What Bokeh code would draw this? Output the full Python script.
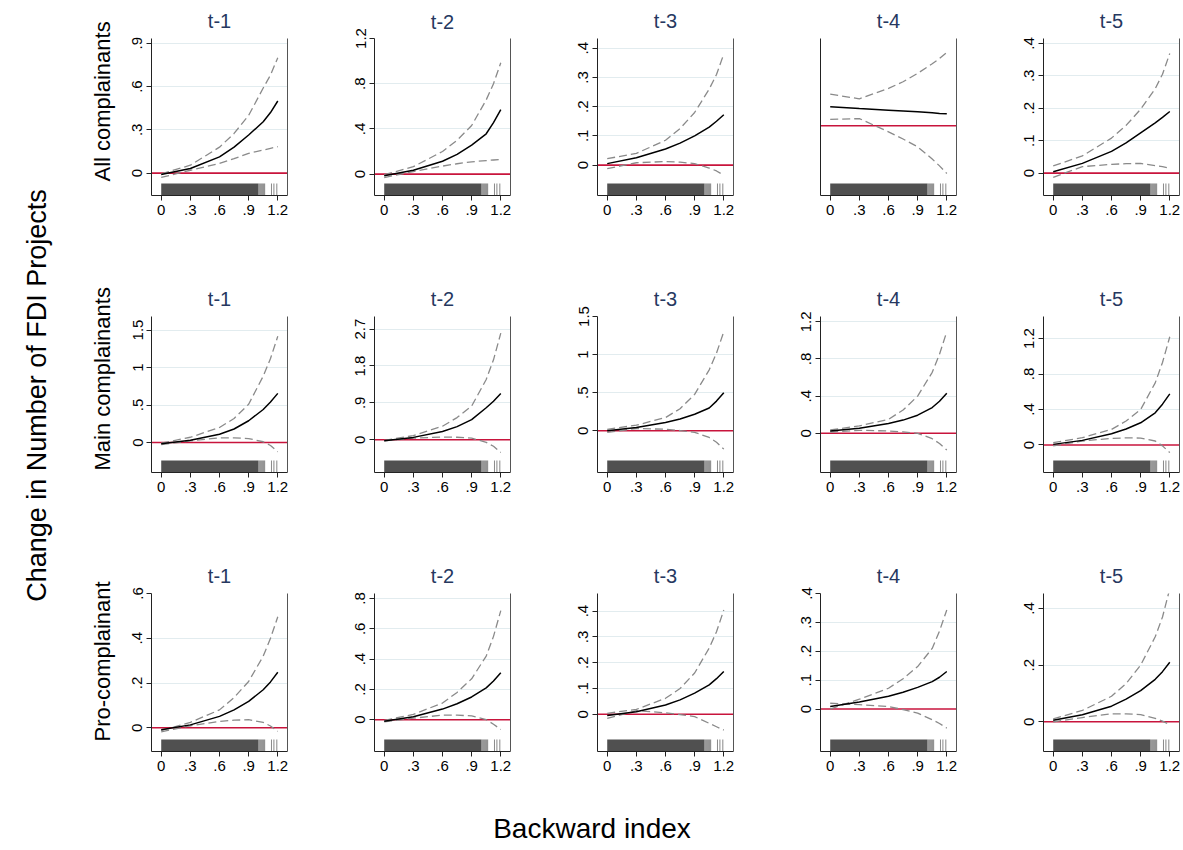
from bokeh.plotting import figure
from bokeh.models import Range1d, FixedTicker, LinearAxis, Title, Span
from bokeh.layouts import row, column
from bokeh.embed import file_html
from bokeh.resources import INLINE

# ---------------- data ----------------
row_labels = ["All complainants", "Main complainants", "Pro-complainant"]
lag_titles = ["t-1", "t-2", "t-3", "t-4", "t-5"]
y_title = "Change in Number of FDI Projects"
x_title = "Backward index"

x_pts = [0, 0.3, 0.6, 0.75, 0.9, 1.05, 1.125, 1.2]
x_ticks = [0, 0.3, 0.6, 0.9, 1.2]
x_tick_labels = ["0", ".3", ".6", ".9", "1.2"]

# rug of observed backward index values
rug_dense_end = 1.0
rug_ticks = [1.005, 1.015, 1.025, 1.035, 1.045, 1.055, 1.065, 1.135, 1.16, 1.19]

# All complainants
all_est = [[-0.01, 0.032, 0.113, 0.18, 0.264, 0.356, 0.42, 0.50],
           [-0.014, 0.034, 0.114, 0.175, 0.257, 0.357, 0.455, 0.571],
           [0.005, 0.025, 0.055, 0.075, 0.10, 0.13, 0.15, 0.172],
           [0.0475, 0.043, 0.039, 0.037, 0.035, 0.0325, 0.031, 0.03],
           [0.004, 0.03, 0.067, 0.093, 0.124, 0.155, 0.172, 0.19]]
all_hi = [[-0.005, 0.055, 0.18, 0.275, 0.40, 0.59, 0.68, 0.80],
          [-0.005, 0.066, 0.2, 0.3, 0.43, 0.657, 0.8, 0.986],
          [0.022, 0.04, 0.085, 0.125, 0.18, 0.26, 0.31, 0.38],
          [0.079, 0.0675, 0.0935, 0.11, 0.131, 0.155, 0.168, 0.1835],
          [0.022, 0.053, 0.108, 0.147, 0.197, 0.26, 0.305, 0.369]]
all_lo = [[-0.03, 0.02, 0.067, 0.1, 0.137, 0.16, 0.172, 0.183],
          [-0.03, 0.023, 0.071, 0.092, 0.109, 0.12, 0.125, 0.129],
          [-0.012, 0.008, 0.012, 0.01, 0.005, -0.01, -0.02, -0.035],
          [0.016, 0.018, -0.015, -0.033, -0.0525, -0.083, -0.1, -0.119],
          [-0.013, 0.02, 0.027, 0.029, 0.03, 0.023, 0.02, 0.015]]
all_yrange = [(-0.155, 0.933), (-0.189, 1.2), (-0.104, 0.433), (-0.174, 0.218), (-0.069, 0.415)]
all_yticks = [[0, 0.3, 0.6, 0.9], [0, 0.4, 0.8, 1.2], [0, 0.1, 0.2, 0.3, 0.4], [], [0, 0.1, 0.2, 0.3, 0.4]]
all_ylabels = [["0", ".3", ".6", ".9"], ["0", ".4", ".8", "1.2"], ["0", ".1", ".2", ".3", ".4"], [],
               ["0", ".1", ".2", ".3", ".4"]]

# Main complainants
main_est = [[-0.018, 0.031, 0.11, 0.18, 0.29, 0.44, 0.54, 0.655],
            [-0.025, 0.057, 0.2, 0.32, 0.49, 0.78, 0.94, 1.13],
            [0.0, 0.043, 0.11, 0.155, 0.217, 0.30, 0.39, 0.5],
            [0.025, 0.054, 0.105, 0.142, 0.195, 0.277, 0.345, 0.432],
            [0.007, 0.052, 0.127, 0.18, 0.25, 0.363, 0.46, 0.576]]
main_hi = [[-0.01, 0.07, 0.2, 0.32, 0.51, 0.885, 1.12, 1.416],
           [-0.016, 0.1, 0.33, 0.54, 0.82, 1.47, 1.95, 2.6],
           [0.02, 0.074, 0.174, 0.29, 0.478, 0.80, 1.02, 1.30],
           [0.036, 0.08, 0.15, 0.25, 0.40, 0.656, 0.85, 1.095],
           [0.026, 0.082, 0.176, 0.27, 0.40, 0.70, 0.93, 1.22]]
main_lo = [[-0.027, 0.022, 0.062, 0.062, 0.053, 0.01, -0.04, -0.124],
           [-0.03, 0.04, 0.065, 0.06, 0.04, -0.065, -0.16, -0.31],
           [-0.02, 0.03, 0.02, 0.003, -0.02, -0.087, -0.15, -0.24],
           [0.014, 0.032, 0.025, 0.015, 0.0, -0.058, -0.11, -0.18],
           [-0.011, 0.045, 0.075, 0.08, 0.078, 0.045, -0.01, -0.086]]
main_yrange = [(-0.40, 1.68), (-0.80, 3.007), (-0.547, 1.5), (-0.422, 1.257), (-0.31, 1.448)]
main_yticks = [[0, 0.5, 1, 1.5], [0, 0.9, 1.8, 2.7], [0, 0.5, 1, 1.5], [0, 0.4, 0.8, 1.2], [0, 0.4, 0.8, 1.2]]
main_ylabels = [["0", ".5", "1", "1.5"], ["0", ".9", "1.8", "2.7"], ["0", ".5", "1", "1.5"],
                ["0", ".4", ".8", "1.2"], ["0", ".4", ".8", "1.2"]]

# Pro-complainant
pro_est = [[-0.009, 0.013, 0.051, 0.08, 0.118, 0.17, 0.205, 0.248],
           [-0.01, 0.02, 0.07, 0.105, 0.15, 0.21, 0.255, 0.31],
           [-0.005, 0.01, 0.036, 0.056, 0.082, 0.114, 0.138, 0.166],
           [0.009, 0.024, 0.044, 0.058, 0.075, 0.095, 0.11, 0.13],
           [0.005, 0.025, 0.055, 0.08, 0.11, 0.15, 0.177, 0.21]]
pro_hi = [[-0.012, 0.024, 0.08, 0.135, 0.207, 0.32, 0.4, 0.496],
          [-0.005, 0.035, 0.11, 0.18, 0.27, 0.42, 0.55, 0.72],
          [0.004, 0.019, 0.062, 0.1, 0.16, 0.257, 0.32, 0.404],
          [0.0, 0.034, 0.072, 0.105, 0.147, 0.21, 0.27, 0.343],
          [0.01, 0.04, 0.09, 0.135, 0.2, 0.3, 0.37, 0.47]]
pro_lo = [[-0.018, 0.009, 0.028, 0.034, 0.036, 0.024, 0.008, -0.016],
          [-0.015, 0.01, 0.03, 0.03, 0.025, 0.0, -0.03, -0.065],
          [-0.016, 0.014, 0.006, -0.001, -0.009, -0.035, -0.048, -0.061],
          [0.02, 0.015, 0.009, -0.002, -0.014, -0.037, -0.05, -0.066],
          [0.0, 0.015, 0.028, 0.028, 0.025, 0.012, 0.002, -0.01]]
pro_yrange = [(-0.106, 0.6), (-0.21, 0.833), (-0.144, 0.468), (-0.147, 0.4), (-0.105, 0.453)]
pro_yticks = [[0, 0.2, 0.4, 0.6], [0, 0.2, 0.4, 0.6, 0.8], [0, 0.1, 0.2, 0.3, 0.4],
              [0, 0.1, 0.2, 0.3, 0.4], [0, 0.2, 0.4]]
pro_ylabels = [["0", ".2", ".4", ".6"], ["0", ".2", ".4", ".6", ".8"], ["0", ".1", ".2", ".3", ".4"],
               ["0", ".1", ".2", ".3", ".4"], ["0", ".2", ".4"]]

rows_data = [
    (all_est, all_lo, all_hi, all_yrange, all_yticks, all_ylabels),
    (main_est, main_lo, main_hi, main_yrange, main_yticks, main_ylabels),
    (pro_est, pro_lo, pro_hi, pro_yrange, pro_yticks, pro_ylabels),
]

# ---------------- style ----------------
FONT = "Liberation Sans"
TITLE_COLOR = "#26385f"
RED = "#c8143c"
GRID = "#e2ecef"
AXIS = "#222222"

col_widths = [254, 223, 223, 223, 190]
col_left = [81, 50, 50, 50, 50]
col_right = [37, 37, 37, 37, 4]
row_heights = [278, 277, 235]
row_top = [38, 38, 38]
row_frame_h = [157, 156, 158]
row_label_offset = [14, 2, 10]


def make_panel(ri, ci):
    est, lo, hi, yr, yt, yl = rows_data[ri]
    top = row_top[ri]
    fh = row_frame_h[ri]
    y0, y1 = yr[ci]
    extra_top = 5 if (ri == 0 and ci == 1) else 0
    bottom = row_heights[ri] - top - fh
    p = figure(width=col_widths[ci], height=row_heights[ri],
               x_range=Range1d(-0.1, 1.3), y_range=Range1d(y0, y1),
               output_backend="svg", toolbar_location=None,
               min_border_left=col_left[ci], min_border_right=col_right[ci],
               min_border_top=top - extra_top, min_border_bottom=bottom,
               outline_line_color=None, background_fill_color="white",
               border_fill_color="white")
    p.title.text = lag_titles[ci]
    p.title.align = "center"
    p.title.vertical_align = "middle"
    p.title.text_font = FONT
    p.title.text_font_size = "20px"
    p.title.text_font_style = "normal"
    p.title.text_color = TITLE_COLOR
    p.title.standoff = 12 - 3 * (extra_top > 0)

    # axes
    p.xaxis.ticker = FixedTicker(ticks=x_ticks)
    p.xaxis.major_label_overrides = dict(zip(x_ticks, x_tick_labels))
    p.yaxis.ticker = FixedTicker(ticks=yt[ci])
    p.yaxis.major_label_overrides = dict(zip(yt[ci], yl[ci]))
    p.yaxis.major_label_orientation = "vertical"
    for ax in (p.xaxis[0], p.yaxis[0]):
        ax.axis_line_color = AXIS
        ax.major_tick_line_color = AXIS
        ax.major_tick_out = 5
        ax.major_tick_in = 0
        ax.minor_tick_line_color = None
        ax.major_label_text_font = FONT
        ax.major_label_text_font_size = "15px"
        ax.major_label_text_color = "black"
        ax.major_label_standoff = 4
    p.xgrid.visible = False
    p.ygrid.ticker = FixedTicker(ticks=[t for t in yt[ci] if t != 0])
    p.ygrid.grid_line_color = GRID
    p.ygrid.grid_line_width = 1.2

    rax = LinearAxis(ticker=FixedTicker(ticks=[]), axis_line_color="#555555",
                     major_tick_out=0, major_tick_in=0, major_label_standoff=0,
                     minor_tick_line_color=None, major_label_text_font_size="0px")
    p.add_layout(rax, "right")

    # rug
    p.extra_y_ranges = {"rug": Range1d(0, 1)}
    rug_h = 12.0 / fh
    p.quad(left=[0], right=[rug_dense_end], bottom=[0], top=[rug_h],
           y_range_name="rug", fill_color="#505050", line_color=None)
    p.segment(x0=rug_ticks, x1=rug_ticks, y0=[0] * len(rug_ticks), y1=[rug_h] * len(rug_ticks),
              y_range_name="rug", line_color="#606060", line_alpha=0.75, line_width=1)

    # zero line
    p.add_layout(Span(location=0, dimension="width", line_color=RED, line_width=1.6, level="underlay"))

    # CI and estimate
    p.line(x_pts, hi[ci], line_color="#8a8a8a", line_width=1.3, line_dash="8 4")
    p.line(x_pts, lo[ci], line_color="#8a8a8a", line_width=1.3, line_dash="8 4")
    p.line(x_pts, est[ci], line_color="black", line_width=1.5)

    if ci == 0:
        t = Title(text=row_labels[ri], align="left", offset=row_label_offset[ri], text_font=FONT,
                  text_font_size="22px", text_font_style="normal", text_color="black",
                  standoff=29)
        p.add_layout(t, "left")
    return p


grid_rows = []
for ri in range(3):
    grid_rows.append(row([make_panel(ri, ci) for ci in range(5)], spacing=0))

left_fig = figure(width=70, height=790, output_backend="svg", toolbar_location=None,
                  x_axis_type=None, y_axis_type=None, outline_line_color=None,
                  min_border_left=65, min_border_right=0, min_border_top=0, min_border_bottom=0,
                  x_range=Range1d(0, 1), y_range=Range1d(0, 1))
left_fig.add_layout(Title(text=y_title, align="center", text_font=FONT, text_font_size="27px",
                          text_font_style="normal", text_color="black", standoff=27), "left")

bottom_fig = figure(width=1183, height=60, output_backend="svg", toolbar_location=None,
                    x_axis_type=None, y_axis_type=None, outline_line_color=None,
                    min_border_left=0, min_border_right=0, min_border_top=56, min_border_bottom=0,
                    x_range=Range1d(0, 1), y_range=Range1d(0, 1))
bottom_fig.add_layout(Title(text=x_title, align="center", text_font=FONT, text_font_size="28px",
                            text_font_style="normal", text_color="black", standoff=6), "above")

layout = column(row(left_fig, column(grid_rows, spacing=0), spacing=0), bottom_fig, spacing=0)

open("out.html", "w").write(file_html(layout, INLINE))
